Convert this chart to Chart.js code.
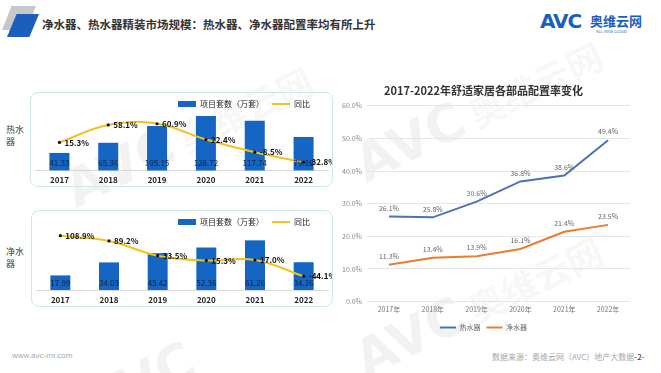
<!DOCTYPE html>
<html>
<head>
<meta charset="utf-8">
<script src="https://cdn.jsdelivr.net/npm/chart.js@4"></script>
<style>
  body {
    margin: 0;
    width: 661px;
    height: 373px;
    background: #fff;
    position: relative;
    overflow: hidden;
    font-family: "Noto Sans CJK SC", sans-serif;
  }
  .abs { position: absolute; }
  .box {
    position: absolute;
    border: 1px solid #cde7ea;
    border-radius: 8px;
    box-sizing: border-box;
  }
  .side { font-size: 9px; color: #444; line-height: 12px; }
  .wm {
    position: absolute;
    font-family: "DejaVu Sans", sans-serif;
    font-weight: bold;
    font-size: 52px;
    color: rgba(0, 0, 0, 0.05);
    white-space: nowrap;
    transform: rotate(-26deg);
    transform-origin: left top;
  }
  .wm span { font-family: "Noto Sans CJK SC"; font-size: 36px; }
</style>
</head>
<body>
<!-- watermarks -->
<div class="wm" style="left:55px;top:165px;">AVC<span> 奥维云网</span></div>
<div class="wm" style="left:345px;top:140px;">AVC<span> 奥维云网</span></div>
<div class="wm" style="left:345px;top:335px;">AVC<span> 奥维云网</span></div>
<div class="wm" style="left:75px;top:380px;">AVC</div>

<!-- header -->
<div class="abs" style="left:2px;top:6px;width:34px;height:24px;background:#c8c8c8;clip-path:polygon(28% 0,100% 0,72% 100%,0 100%);"></div>
<div class="abs" style="left:7px;top:14px;width:32px;height:23px;background:#1b5fbe;clip-path:polygon(30% 0,100% 0,70% 100%,0 100%);"></div>
<div class="abs" style="left:42px;top:16px;font-size:11.5px;font-weight:bold;color:#333;white-space:nowrap;">净水器、热水器精装市场规模：热水器、净水器配置率均有所上升</div>
<div class="abs" style="left:540px;top:9px;font-family:'DejaVu Sans';font-size:20px;font-weight:bold;color:#1b5fbe;letter-spacing:-1px;">AVC</div>
<div class="abs" style="left:590px;top:11px;font-size:13px;font-weight:bold;color:#1b5fbe;white-space:nowrap;">奥维云网</div>
<div class="abs" style="left:596px;top:28px;font-size:4px;color:#1b5fbe;white-space:nowrap;">ALL VIEW CLOUD</div>

<!-- left boxes -->
<div class="box" style="left:30px;top:92px;width:303px;height:95px;"></div>
<div class="box" style="left:31px;top:210px;width:302px;height:97px;"></div>
<div class="abs side" style="left:6px;top:124px;">热水<br>器</div>
<div class="abs side" style="left:6px;top:246px;">净水<br>器</div>
<canvas id="heater" class="abs" style="left:31px;top:92px;" width="301" height="98"></canvas>
<canvas id="purifier" class="abs" style="left:32px;top:211px;" width="300" height="100"></canvas>

<!-- right chart -->
<canvas id="rate" class="abs" style="left:337px;top:78px;" width="303" height="263"></canvas>

<!-- footer -->
<div class="abs" style="left:12px;top:351px;font-size:8px;color:#a8a8a8;font-family:'Liberation Sans';">www.avc-mr.com</div>
<div class="abs" style="left:492px;top:351px;font-size:8px;color:#a8a8a8;white-space:nowrap;">数据来源：奥维云网（AVC）地产大数据<span style="color:#222;">-2-</span></div>

<script>
// data
const years = ["2017", "2018", "2019", "2020", "2021", "2022"];
const heaterSets = [41.33, 65.36, 105.15, 128.72, 117.74, 79.12];
const heaterYoy = [15.3, 58.1, 60.9, 22.4, -8.5, -32.8];
const purifierSets = [17.99, 34.03, 45.42, 52.36, 61.26, 34.26];
const purifierYoy = [108.9, 89.2, 33.5, 15.3, 17.0, -44.1];

const rateYears = ["2017年", "2018年", "2019年", "2020年", "2021年", "2022年"];
const heaterRate = [26.1, 25.8, 30.6, 36.8, 38.6, 49.4];
const purifierRate = [11.3, 13.4, 13.9, 16.1, 21.4, 23.5];

const FONT = "'Noto Sans CJK SC', sans-serif";
const BLUE = "#1466c2";
const YELLOW = "#f1c31a";

// draws value labels next to the points / bars
const valueLabels = {
  id: "valueLabels",
  afterDatasetsDraw(chart) {
    const ctx = chart.ctx;
    chart.data.datasets.forEach((ds, i) => {
      const lbl = ds.lbl;
      if (!lbl) return;
      const meta = chart.getDatasetMeta(i);
      ctx.save();
      ctx.font = lbl.font;
      ctx.fillStyle = lbl.color;
      meta.data.forEach((el, j) => {
        const v = ds.data[j];
        const text = lbl.fmt(v);
        if (lbl.pos === "base") {
          ctx.textAlign = "center";
          ctx.textBaseline = "middle";
          ctx.fillText(text, el.x, el.base - 7);
        } else if (lbl.pos === "right") {
          ctx.textAlign = "left";
          ctx.textBaseline = "middle";
          ctx.fillText(text, el.x + 5, el.y);
        } else {
          ctx.textAlign = "center";
          ctx.textBaseline = "bottom";
          ctx.fillText(text, el.x, el.y - 5);
        }
      });
      ctx.restore();
    });
  },
};

// bar item as a flat box, line item as a short stroke; full-width spaces
// push the legend left like in the original
function legendLabels(chart) {
  const items = Chart.defaults.plugins.legend.labels.generateLabels(chart);
  items.forEach((it) => {
    const ds = chart.data.datasets[it.datasetIndex];
    if (ds.type === "line") {
      it.pointStyle = "line";
      it.strokeStyle = ds.borderColor;
      it.lineWidth = 2;
      it.text += "　　";
    } else {
      it.pointStyle = "rect";
      it.lineWidth = 0;
      it.text += "　";
    }
  });
  return items;
}

function makeLeft(id, sets, yoy, barMax, lineMin, lineMax, padTop, padBottom) {
  new Chart(document.getElementById(id), {
    data: {
      labels: years,
      datasets: [
        {
          type: "bar",
          label: "项目套数（万套）",
          data: sets,
          yAxisID: "y",
          order: 2,
          backgroundColor: BLUE,
          categoryPercentage: 0.41,
          barPercentage: 1,
          clip: false,
          lbl: { pos: "base", font: "8px " + FONT, color: "#0f2240", fmt: (v) => v.toFixed(2) },
        },
        {
          type: "line",
          label: "同比",
          data: yoy,
          yAxisID: "y1",
          order: 1,
          borderColor: YELLOW,
          borderWidth: 2,
          tension: 0.4,
          pointRadius: 1.6,
          pointBackgroundColor: "#111",
          pointBorderWidth: 0,
          clip: false,
          lbl: { pos: "right", font: "bold 8px " + FONT, color: "#111", fmt: (v) => v.toFixed(1) + "%" },
        },
      ],
    },
    options: {
      responsive: false,
      animation: false,
      layout: { padding: { top: padTop, bottom: padBottom, left: 3, right: 2 } },
      plugins: {
        legend: {
          position: "top",
          align: "end",
          labels: {
            font: { family: FONT, size: 8 },
            color: "#222",
            padding: 4,
            usePointStyle: true,
            pointStyleWidth: 18,
            boxHeight: 6,
            generateLabels: legendLabels,
            sort: (a, b) => a.datasetIndex - b.datasetIndex,
          },
        },
        tooltip: { enabled: false },
      },
      scales: {
        x: {
          grid: { display: false, drawTicks: false },
          border: { display: true, color: "#d8d8d8" },
          ticks: { font: { family: FONT, size: 8, weight: "bold" }, color: "#222", padding: 5 },
        },
        y: { display: false, min: 0, max: barMax },
        y1: { display: false, min: lineMin, max: lineMax },
      },
    },
    plugins: [valueLabels],
  });
}

makeLeft("heater", heaterSets, heaterYoy, 124, -52.8, 74.9, 4, 0);
makeLeft("purifier", purifierSets, purifierYoy, 66.6, -96.3, 107.8, 3, 1.4);

new Chart(document.getElementById("rate"), {
  type: "line",
  data: {
    labels: rateYears,
    datasets: [
      {
        label: "热水器",
        data: heaterRate,
        borderColor: "#4a72b5",
        borderWidth: 2,
        pointRadius: 0,
        tension: 0,
        lbl: { pos: "top", font: "7px " + FONT, color: "#666", fmt: (v) => v.toFixed(1) + "%" },
      },
      {
        label: "净水器",
        data: purifierRate,
        borderColor: "#ec7c30",
        borderWidth: 2,
        pointRadius: 0,
        tension: 0,
        lbl: { pos: "top", font: "7px " + FONT, color: "#666", fmt: (v) => v.toFixed(1) + "%" },
      },
    ],
  },
  options: {
    responsive: false,
    animation: false,
    layout: { padding: { left: 0, right: 10, top: 0, bottom: 0 } },
    plugins: {
      title: {
        display: true,
        text: "2017-2022年舒适家居各部品配置率变化",
        font: { family: FONT, size: 11, weight: "bold" },
        color: "#333",
        padding: { top: 6, bottom: 8.5 },
      },
      legend: {
        position: "bottom",
        labels: {
          font: { family: FONT, size: 7 },
          color: "#666",
          padding: 6,
          usePointStyle: true,
          pointStyle: "line",
          pointStyleWidth: 16,
          boxHeight: 7,
        },
      },
      tooltip: { enabled: false },
    },
    scales: {
      x: {
        offset: true,
        grid: { display: false, drawTicks: false },
        border: { display: false },
        ticks: { font: { family: FONT, size: 7 }, color: "#777", padding: 4 },
      },
      y: {
        min: 0,
        max: 60,
        grid: { color: "#e6e6e6", drawTicks: false },
        border: { display: false },
        ticks: {
          stepSize: 10,
          font: { family: FONT, size: 7 },
          color: "#888",
          padding: 5,
          callback: (v) => v.toFixed(1) + "%",
        },
      },
    },
  },
  plugins: [valueLabels],
});
</script>
</body>
</html>
